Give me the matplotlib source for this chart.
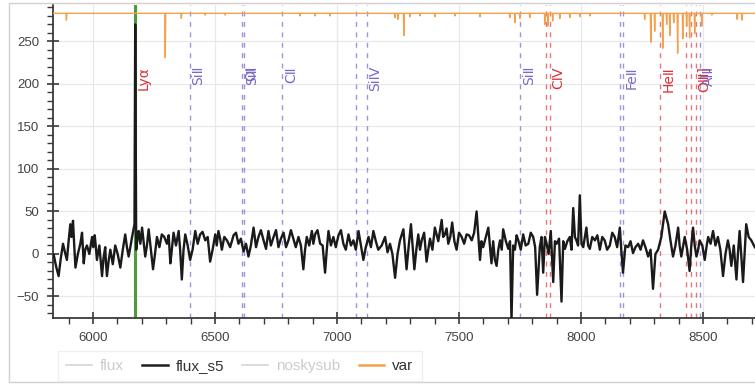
import matplotlib
matplotlib.use("Agg")
import matplotlib.pyplot as plt
from matplotlib.lines import Line2D
from matplotlib.patches import Rectangle
from matplotlib.ticker import MultipleLocator

# ---- smoothed flux (flux_s5) ----
flux_wave = [5839, 5849, 5859, 5868, 5877, 5885, 5893, 5900, 5907, 5912, 5918, 5923, 5928,
             5938, 5948, 5955, 5962, 5968, 5975, 5985, 5996, 6001, 6007, 6011, 6016, 6026,
             6037, 6043, 6050, 6053, 6057, 6064, 6071, 6081, 6091, 6101, 6112, 6122, 6132,
             6139, 6146, 6153, 6160, 6170, 6173, 6177, 6182, 6187, 6194, 6201, 6207, 6214,
             6221, 6228, 6237, 6246, 6254, 6262, 6272, 6282, 6292, 6303, 6310, 6317, 6323,
             6330, 6340, 6351, 6357, 6364, 6371, 6378, 6388, 6398, 6408, 6419, 6429, 6439,
             6449, 6460, 6470, 6480, 6490, 6501, 6507, 6514, 6521, 6528, 6538, 6549, 6562,
             6576, 6586, 6596, 6606, 6617, 6627, 6637, 6647, 6658, 6668, 6678, 6688, 6699,
             6709, 6719, 6729, 6740, 6750, 6760, 6770, 6781, 6791, 6801, 6811, 6821, 6831,
             6842, 6852, 6862, 6869, 6876, 6886, 6897, 6903, 6910, 6920, 6931, 6941, 6951,
             6958, 6965, 6975, 6985, 6995, 7006, 7016, 7026, 7036, 7047, 7057, 7067, 7077,
             7088, 7098, 7108, 7118, 7129, 7139, 7149, 7159, 7169, 7183, 7197, 7207, 7217,
             7227, 7238, 7248, 7258, 7272, 7285, 7294, 7303, 7317, 7325, 7333, 7340, 7347,
             7357, 7367, 7374, 7381, 7391, 7401, 7415, 7429, 7435, 7442, 7449, 7456, 7464,
             7472, 7481, 7490, 7500, 7511, 7521, 7531, 7541, 7552, 7562, 7572, 7586, 7592,
             7599, 7610, 7620, 7633, 7640, 7647, 7654, 7661, 7668, 7675, 7681, 7692, 7702,
             7709, 7715, 7722, 7729, 7736, 7743, 7753, 7763, 7773, 7784, 7794, 7804, 7812,
             7820, 7831, 7838, 7845, 7852, 7859, 7867, 7876, 7886, 7893, 7900, 7910, 7920,
             7927, 7934, 7944, 7954, 7961, 7968, 7975, 7981, 7988, 7995, 8002, 8009, 8016,
             8022, 8029, 8036, 8046, 8057, 8067, 8077, 8087, 8097, 8107, 8118, 8128, 8138,
             8148, 8159, 8165, 8172, 8182, 8193, 8203, 8213, 8223, 8234, 8244, 8254, 8264,
             8275, 8285, 8295, 8305, 8316, 8329, 8343, 8357, 8367, 8377, 8387, 8398, 8404,
             8411, 8425, 8435, 8445, 8452, 8459, 8466, 8473, 8480, 8486, 8497, 8507, 8514,
             8521, 8531, 8541, 8551, 8561, 8571, 8582, 8592, 8602, 8609, 8616, 8626, 8637,
             8643, 8650, 8664, 8677, 8687, 8698, 8712]
flux_s5 = [-1, -15, -26, -5, 12, 2, -7, 15, 35, 20, 39, 10, -16,
           0, 12, 25, -11, 5, 10, 0, 20, 8, 22, 10, -7, 10,
           -26, -5, 8, -10, -26, -8, 5, -12, 10, 0, -16, 5, 23,
           8, -3, 8, 20, 35, 270, 5, 18, 27, 12, 31, 15, -3,
           10, 29, 5, -18, 0, 20, 8, 23, 20, 12, 22, -11, 5,
           25, 10, 27, 5, -30, 5, 23, 10, -7, 5, 27, 12, 23,
           26, 16, 20, -9, 5, 23, 10, 27, 18, 5, 20, 16, 8,
           22, 25, 12, 18, 3, 12, -3, 10, 31, 8, 20, 28, 16,
           6, 27, 10, 20, 28, 8, 18, 25, 8, 16, 28, 18, 8,
           20, 10, -18, 5, 20, 10, 27, 12, 23, 28, 12, 10, -22,
           5, 27, 10, 20, 8, 22, 28, 12, 5, 23, 10, 16, 5,
           27, 10, -7, 8, 20, 8, 27, 15, 5, 10, 20, 2, 12,
           0, -28, 0, 16, 29, -18, 10, 35, -18, 5, 23, 5, 16,
           25, -9, 5, 18, 5, 31, 15, 40, 20, 23, 30, 12, 20,
           37, 15, 5, 25, 20, 12, 23, 22, 16, 25, 50, -7, 15,
           8, 20, 31, -11, 15, -7, -14, 5, 16, 5, 29, 15, 6,
           15, -78, 10, 5, 22, 16, 5, 23, 10, 12, 25, 20, 8,
           -48, 8, 20, -22, 20, 12, 0, 27, -33, 15, 12, 18, -56,
           15, 6, 15, 20, 5, 54, 20, 16, 10, 69, 12, 8, 20,
           31, 10, 6, 20, 16, 22, 5, 20, 16, 5, 10, 25, 20,
           8, 31, 5, -22, 10, 8, 15, 1, 8, 12, 5, 16, 8,
           -3, 5, -41, 0, 5, 20, 50, 35, 15, -3, 10, 31, 10,
           -3, 20, 5, -20, 10, 31, 10, -3, 5, 16, 10, -7, 8,
           20, 12, 27, 10, 20, 5, -26, 0, 16, 5, -14, 10, -30,
           0, 27, -33, 35, 20, 16, 8]

# ---- variance track: flat level with narrow dips ----
var_level = 283
var_dip_wave = [5891, 6296, 6362, 6460, 6542, 6849, 6910, 6972, 7238, 7250, 7274, 7299,
                7340, 7401, 7483, 7586, 7708, 7729, 7749, 7790, 7852, 7864, 7884, 7913,
                7954, 7995, 8036, 8261, 8286, 8302, 8335, 8351, 8364, 8380, 8396, 8417,
                8433, 8445, 8466, 8495, 8536, 8640, 8660]
var_dip_val = [275, 231, 277, 281, 281, 280, 280, 280, 278, 276, 257, 279,
               280, 279, 280, 279, 278, 272, 277, 278, 270, 268, 274, 277,
               278, 279, 280, 276, 249, 262, 242, 270, 257, 272, 236, 253,
               268, 254, 259, 268, 281, 276, 275]

# ---- line identifications (observed wavelength, label, kind) ----
line_wave = [6173, 6398, 6612, 6619, 6776, 7076, 7123, 7751, 7858, 7872,
             8161, 8173, 8325, 8430, 8451, 8471, 8488]
line_label = ["Lyα", "SiⅡ", "OⅠ", "SiⅡ", "CⅡ", None, "SiⅣ", "SiⅡ", None, "CⅣ",
              None, "FeⅡ", "HeⅡ", None, None, "OⅢ]", "AlⅡ"]
line_kind = ["em", "abs", "abs", "abs", "abs", "abs", "abs", "abs", "em", "em",
             "abs", "abs", "em", "em", "em", "em", "abs"]
lya_wave = 6173

x_range = (5836, 8713)
y_range = (-75.3, 292.8)

kind_color = {"em": "#e0474c", "abs": "#7c70d2"}
kind_text = {"em": "#d8323a", "abs": "#7a68c6"}

plt.rcParams["font.family"] = ["DejaVu Sans"]
W, H = 755, 387
fig = plt.figure(figsize=(W / 100, H / 100), dpi=100)

# outer panel border
fig.patches.append(Rectangle((9 / W, 1 - 382 / H), 1.2, (382 - 3) / H,
                             transform=fig.transFigure, fill=False,
                             edgecolor="#d0d0d0", lw=1.0, zorder=0))

ax = fig.add_axes([53 / W, 1 - 318 / H, (W - 53) / W, (318 - 5) / H])
ax.set_xlim(*x_range)
ax.set_ylim(*y_range)

for s in ("top", "right"):
    ax.spines[s].set_visible(False)
for s in ("left", "bottom"):
    ax.spines[s].set_color("#3a3a3a")
    ax.spines[s].set_linewidth(1.3)

ax.xaxis.set_major_locator(MultipleLocator(500))
ax.xaxis.set_minor_locator(MultipleLocator(100))
ax.yaxis.set_major_locator(MultipleLocator(50))
ax.yaxis.set_minor_locator(MultipleLocator(10))
ax.tick_params(which="major", direction="inout", length=8, width=1.2,
               color="#3a3a3a", labelsize=9.5, labelcolor="#444444", pad=6)
ax.tick_params(which="minor", direction="out", length=4, width=1.0, color="#3a3a3a")
ax.grid(True, which="major", color="#e8e8e8", lw=0.9, zorder=0)
ax.set_axisbelow(True)
for lab in ax.get_xticklabels() + ax.get_yticklabels():
    lab.set_fontfamily("Liberation Sans")

# line markers and their labels
for w, lab, kind in zip(line_wave, line_label, line_kind):
    ax.axvline(w, color=kind_color[kind], lw=1.0, ls=(0, (3.5, 4)),
               alpha=0.75, zorder=1)
    if lab:
        ax.text(w + 6, 221, lab, rotation=90, ha="left", va="top",
                color=kind_text[kind], fontsize=10, zorder=4)

# Lyman-alpha highlight
ax.axvline(lya_wave, color="#4e9a3c", lw=2.2, zorder=2)

# variance track
vw, vv = [x_range[0]], [var_level]
for w, v in zip(var_dip_wave, var_dip_val):
    vw += [w - 2, w, w + 2]
    vv += [var_level, v, var_level]
vw.append(x_range[1])
vv.append(var_level)
ax.plot(vw, vv, color="#f5a04a", lw=1.0, zorder=3)

ax.plot(flux_wave, flux_s5, color="#1a1a1a", lw=1.7, zorder=3)

# legend below the panel
handles = [Line2D([], [], color="#dcdcdc", lw=1.4),
           Line2D([], [], color="#1e1e1e", lw=1.8),
           Line2D([], [], color="#dcdcdc", lw=1.4),
           Line2D([], [], color="#f5a04a", lw=1.8)]
labels = ["flux", "flux_s5", "noskysub", "var"]
leg = fig.legend(handles, labels, loc="upper left", ncol=4,
                 bbox_to_anchor=(50 / W, 1 - 343 / H), frameon=True,
                 handlelength=1.7, handletextpad=0.5,
                 columnspacing=1.2, borderpad=0.55, fancybox=False,
                 prop={"family": "Liberation Sans", "size": 11})
leg.get_frame().set_edgecolor("#ececec")
leg.get_frame().set_linewidth(1.0)
for t, c in zip(leg.get_texts(), ["#cccccc", "#333333", "#cccccc", "#333333"]):
    t.set_color(c)

fig.savefig("out.png", dpi=100)
